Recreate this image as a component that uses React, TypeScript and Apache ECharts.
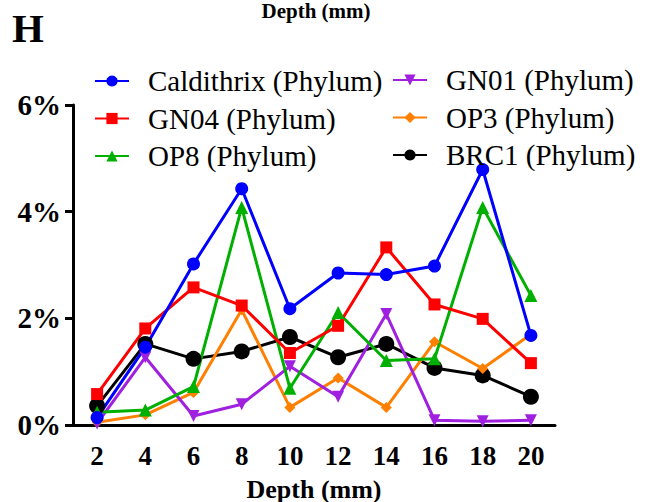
import React, { useEffect, useRef } from "react";
import * as echarts from "echarts";

const depths = ["2", "4", "6", "8", "10", "12", "14", "16", "18", "20"];
const caldithrix = [0.14, 1.46, 3.02, 4.43, 2.18, 2.85, 2.82, 2.98, 4.79, 1.68];
const gn04 = [0.58, 1.81, 2.58, 2.24, 1.35, 1.86, 3.33, 2.26, 1.99, 1.16];
const op8 = [0.24, 0.28, 0.72, 4.08, 0.69, 2.11, 1.21, 1.24, 4.08, 2.43];
const gn01 = [0.03, 1.27, 0.17, 0.39, 1.1, 0.53, 2.08, 0.09, 0.07, 0.09];
const op3 = [0.05, 0.19, 0.61, 2.16, 0.33, 0.88, 0.33, 1.56, 1.06, 1.7];
const brc1 = [0.36, 1.52, 1.24, 1.38, 1.65, 1.27, 1.52, 1.07, 0.93, 0.53];

const legendCol1 = ["Caldithrix (Phylum)", "GN04 (Phylum)", "OP8 (Phylum)"];
const legendCol2 = ["GN01 (Phylum)", "OP3 (Phylum)", "BRC1 (Phylum)"];

const FONT = "Liberation Serif";

export default function App() {
  const ref = useRef<HTMLDivElement>(null);
  useEffect(() => {
    if (!ref.current) return;
    const chart = echarts.init(ref.current, undefined, { renderer: "svg" });
    const mk = (name: string, data: number[], color: string, symbol: string, size: number, rotate = 0) => ({
      name,
      type: "line",
      data,
      symbol,
      symbolSize: size,
      symbolRotate: rotate,
      lineStyle: { color, width: 3 },
      itemStyle: { color },
      color,
    });
    const legendText = {
      fontFamily: FONT,
      fontSize: 29,
      color: "#000",
      padding: [0, 0, 0, 14],
      lineHeight: 30,
    };
    const legendBase = {
      orient: "vertical",
      itemWidth: 34,
      itemHeight: 14,
      itemGap: 7.5,
      padding: 0,
      textStyle: legendText,
    };
    chart.setOption({
      animation: false,
      textStyle: { fontFamily: FONT },
      grid: { left: 73, right: 98, top: 105, bottom: 77, outerBoundsMode: "none", containLabel: false },
      legend: [
        { ...legendBase, data: legendCol1, left: 94, top: 66 },
        { ...legendBase, data: legendCol2, left: 392, top: 65 },
      ],
      xAxis: {
        type: "category",
        data: depths,
        boundaryGap: true,
        name: "Depth (mm)",
        nameLocation: "middle",
        nameGap: 51,
        nameTextStyle: { fontFamily: FONT, fontWeight: "bold", fontSize: 26, color: "#000" },
        axisLine: { lineStyle: { color: "#000", width: 3 } },
        axisTick: { alignWithLabel: true, length: 9, lineStyle: { width: 3, color: "#000" } },
        axisLabel: { fontFamily: FONT, fontWeight: "bold", fontSize: 27, color: "#000", margin: 17 },
      },
      yAxis: {
        type: "value",
        min: 0,
        max: 6,
        interval: 2,
        splitLine: { show: false },
        axisLine: { show: true, lineStyle: { color: "#000", width: 3 } },
        axisTick: { show: true, length: 8, lineStyle: { width: 3, color: "#000" } },
        axisLabel: {
          fontFamily: FONT,
          fontWeight: "bold",
          fontSize: 29,
          color: "#000",
          margin: 12,
          formatter: "{value}%",
        },
      },
      graphic: [
        {
          type: "text",
          style: {
            x: 316,
            y: 11,
            text: "Depth (mm)",
            fontFamily: FONT,
            fontWeight: "bold",
            fontSize: 21,
            fill: "#000",
            textAlign: "center",
            textVerticalAlign: "middle",
          },
        },
        {
          type: "text",
          style: {
            x: 12,
            y: 28,
            text: "H",
            fontFamily: FONT,
            fontWeight: "bold",
            fontSize: 41,
            fill: "#000",
            textAlign: "left",
            textVerticalAlign: "middle",
          },
        },
      ],
      series: [
        mk("BRC1 (Phylum)", brc1, "#000000", "circle", 16),
        mk("OP3 (Phylum)", op3, "#FF8000", "diamond", 11),
        mk("GN01 (Phylum)", gn01, "#A020E0", "triangle", 12, 180),
        mk("OP8 (Phylum)", op8, "#00B000", "triangle", 13),
        mk("GN04 (Phylum)", gn04, "#FF0000", "rect", 12),
        mk("Caldithrix (Phylum)", caldithrix, "#0000FF", "circle", 13),
      ],
    });
    return () => chart.dispose();
  }, []);
  return (
    <div
      ref={ref}
      style={{ position: "fixed", left: 0, top: 0, width: 653, height: 502, background: "#fff" }}
    />
  );
}
